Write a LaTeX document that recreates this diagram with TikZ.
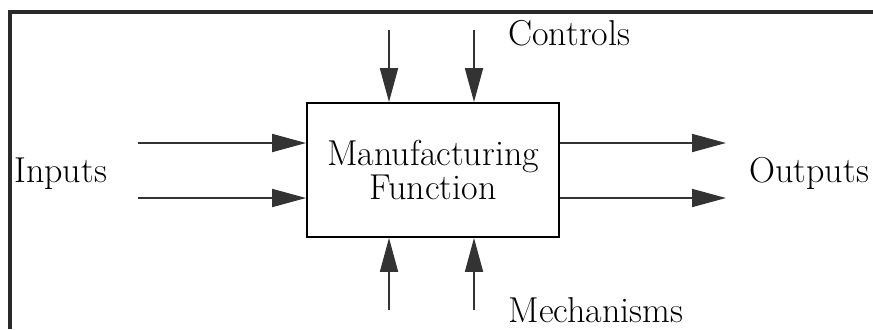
\documentclass[tikz,border=0pt]{standalone}
\usepackage{xcolor}
\usepackage{tikz}
\usetikzlibrary{arrows.meta,positioning}
\definecolor{linec}{HTML}{333333}
\definecolor{framec}{HTML}{2A2A2A}
\tikzset{
  ar/.style={-{Triangle[length=17pt,width=9pt]},line width=0.9pt,linec},
  box/.style={draw=black,line width=0.9pt,minimum width=126pt,minimum height=67pt,align=center,inner sep=0pt,font=\fontsize{18}{17.5}\selectfont},
  lbl/.style={anchor=base west,inner sep=0pt,font=\fontsize{18}{20}\selectfont}
}
\begin{document}
\begin{tikzpicture}[x=0.5pt,y=0.5pt]
\useasboundingbox (0,0) rectangle (873,329);
\draw[line width=2pt,framec] (10,0)--(10,317)--(873,317);
\node[box] (fn) at (433,159) {Manufacturing\\Function};
\coordinate (c1) at (389,299); \coordinate (c2) at (474,299);
\coordinate (m1) at (389,19); \coordinate (m2) at (474,19);
\coordinate (i1) at (138,186); \coordinate (i2) at (138,131);
\coordinate (o1) at (726,186); \coordinate (o2) at (726,131);
\draw[ar] (c1) -- (c1 |- fn.north);
\draw[ar] (c2) -- (c2 |- fn.north);
\draw[ar] (m1) -- (m1 |- fn.south);
\draw[ar] (m2) -- (m2 |- fn.south);
\draw[ar] (i1) -- (i1 -| fn.west);
\draw[ar] (i2) -- (i2 -| fn.west);
\draw[ar] (fn.east |- o1) -- (o1);
\draw[ar] (fn.east |- o2) -- (o2);
\node[lbl] (inp) at (14,147) {Inputs};
\node[lbl] (outp) at (749,147) {Outputs};
\node[lbl] (ctl) at (508,284) {Controls};
\node[lbl] (mech) at (508,7) {Mechanisms};
\end{tikzpicture}
\end{document}
